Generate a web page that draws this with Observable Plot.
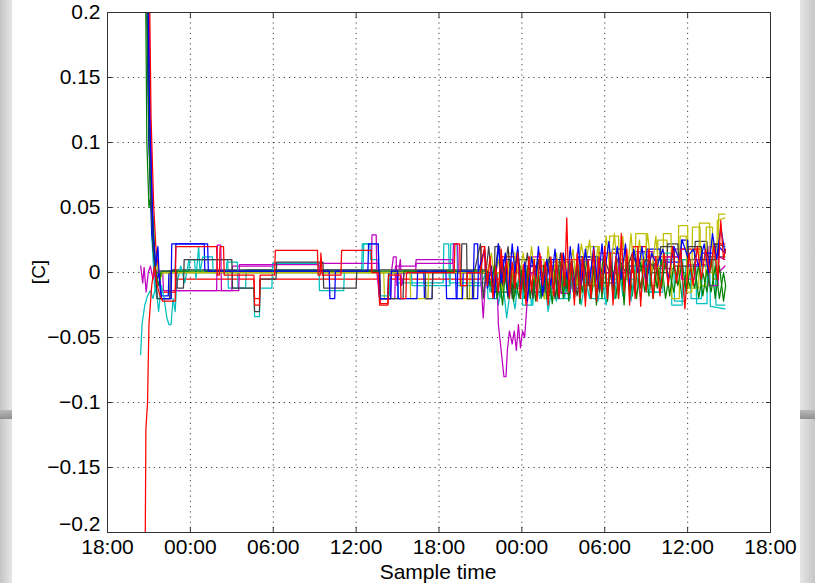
<!DOCTYPE html>
<html><head><meta charset="utf-8">
<script src="https://cdn.jsdelivr.net/npm/d3@7"></script>
<script src="https://cdn.jsdelivr.net/npm/@observablehq/plot@0.6"></script>
<style>
html,body{margin:0;padding:0}
body{width:815px;height:583px;position:relative;overflow:hidden;background:linear-gradient(to right,#c4c4c4 0px,#e4e4e4 11px,#e4e4e4 801px,#c6c6c6 815px);font-family:"Liberation Sans",Arial,Helvetica,sans-serif}
#band{position:absolute;left:0;top:410px;width:815px;height:9px;background:linear-gradient(#b8b8b8,#909090)}
#panel{position:absolute;left:12px;top:0;width:788px;height:583px;background:#fff}
</style></head><body>
<div id="band"></div><div id="panel"></div>
<script>
// x: hours since 18:00 of the first day
const xTicks = [0, 6, 12, 18, 24, 30, 36, 42, 48];
const xTickLabels = ["18:00", "00:00", "06:00", "12:00", "18:00", "00:00", "06:00", "12:00", "18:00"];
const yTicks = [-0.2, -0.15, -0.1, -0.05, 0, 0.05, 0.1, 0.15, 0.2];
const yTickLabels = ["−0.2", "−0.15", "−0.1", "−0.05", "0", "0.05", "0.1", "0.15", "0.2"];

const blueA = [[2.75,0.35],[3.05,0.12],[3.3,0.03],[3.5,0.005],[3.65,0.02],[3.75,-0.005],[3.9,-0.02],[4.6,-0.02],[4.65,0.022],[7.25,0.022],[7.3,0.001],[16.05,0.001],[16.1,-0.02],[16.45,-0.02],[16.5,0.001],[18.85,0.001],[18.9,0.022],[19.6,0.022],[19.7,-0.02],[20.5,-0.02],[20.55,0.001],[21.0,0.001],[21.05,-0.02],[22.4,-0.02],[22.45,0.001],[24.5,0.001],[24.55,-0.02],[25.3,-0.02],[25.35,0.001],[26.4,0.001],[26.45,-0.02],[26.8,-0.02],[26.85,0.001],
[27.3,0.018],[27.5,-0.012],[27.8,0.005],[28.0,-0.02],[28.3,0.022],[28.5,-0.008],[28.8,0.015],[29.0,-0.018],[29.3,0.022],[29.5,0.0],[29.7,0.02],[29.9,-0.015],[30.2,0.008],[30.4,-0.022],[30.7,0.012],[31.0,-0.005],[31.2,0.02],[31.5,-0.018],[31.8,0.01],[32.1,-0.01],[32.4,0.018],[32.7,-0.02],[33.0,0.015],[33.3,-0.005],[33.5,0.02],[33.8,-0.015],[34.1,0.022],[34.3,-0.01],[34.6,0.018],[34.9,-0.008],[35.2,0.02],[35.5,-0.012],[35.8,0.022],[36.0,0.0],[36.3,0.024],[36.6,-0.01],[36.9,0.02],[37.2,-0.005],[37.5,0.022],[37.8,-0.01],[38.1,0.018],[38.4,0.0],[38.7,0.02],[39.0,-0.008],[39.4,0.015],[39.8,0.005],[40.2,0.018],[40.6,-0.005],[41.0,0.02],[41.4,0.01],[41.6,0.025],[42.0,0.012],[42.4,0.018],[42.8,0.005],[43.2,0.022],[43.5,0.0],[43.8,0.03],[44.1,0.01],[44.4,0.035],[44.7,0.015]];

const greenA = [[2.7,0.4],[2.95,0.15],[3.1,0.07],[3.3,0.04],[3.5,0.0],[3.7,-0.01],[3.9,0.001],[27.5,0.001],
[27.8,-0.01],[28.0,0.005],[28.2,-0.02],[28.4,-0.005],[28.6,-0.025],[28.8,0.0],[29.0,-0.018],[29.2,0.005],[29.4,-0.022],[29.6,-0.008],[29.8,-0.02],[30.0,0.002],[30.2,-0.015],[30.4,0.004],[30.6,-0.02],[30.8,-0.005],[31.0,-0.022],[31.2,0.0],[31.4,-0.018],[31.6,0.006],[31.8,-0.02],[32.0,-0.004],[32.2,-0.024],[32.4,0.002],[32.6,-0.018],[32.8,0.008],[33.0,-0.02],[33.2,0.0],[33.4,-0.022],[33.6,0.005],[33.8,-0.018],[34.0,0.008],[34.2,-0.024],[34.4,0.002],[34.6,-0.02],[34.8,0.01],[35.0,-0.018],[35.2,0.005],[35.4,-0.025],[35.6,0.008],[35.8,-0.02],[36.0,0.01],[36.2,-0.022],[36.4,0.006],[36.6,-0.018],[36.8,0.012],[37.0,-0.02],[37.2,0.005],[37.4,-0.025],[37.6,0.01],[37.8,-0.015],[38.0,0.012],[38.3,-0.02],[38.6,0.008],[38.9,-0.015],[39.2,0.01],[39.5,-0.02],[39.8,0.005],[40.1,-0.012],[40.4,0.01],[40.7,-0.018],[41.0,0.006],[41.3,-0.01],[41.6,0.008],[41.9,-0.015],[42.2,0.004],[42.5,-0.012],[42.8,0.006],[43.1,-0.018],[43.4,0.002],[43.7,-0.015],[44.0,0.005],[44.3,-0.02],[44.6,0.0],[44.75,-0.01]];

const redA = [[2.68,-0.3],[2.78,-0.12],[2.9,-0.1],[3.0,-0.04],[3.2,-0.01],[3.4,0.005],[3.6,-0.01],[3.8,-0.018],[4.0,-0.022],[4.9,-0.022],[4.95,0.02],[7.9,0.02],[7.95,-0.002],[8.1,-0.002],[8.15,0.02],[8.4,0.02],[8.45,-0.002],[10.6,-0.002],[10.65,-0.025],[11.0,-0.025],[11.05,-0.002],[12.1,-0.002],[12.15,0.017],[15.2,0.017],[15.25,-0.002],[15.4,-0.002],[15.45,0.015],[15.55,-0.002],[16.9,-0.002],[16.95,0.017],[19.1,0.017],[19.15,0.0],[19.6,0.0],[19.7,-0.025],[20.3,-0.025],[20.35,-0.002],[21.2,-0.002],[21.25,-0.02],[21.6,-0.02],[21.65,0.0],[25.1,0.0],[25.15,0.022],[25.5,0.022],[25.55,-0.01],[26.0,-0.01],[26.05,0.0],[27.0,0.0],
[27.3,0.02],[27.5,-0.01],[27.7,0.012],[27.9,-0.02],[28.1,0.005],[28.3,-0.015],[28.5,0.018],[28.7,-0.008],[28.9,0.01],[29.1,-0.02],[29.3,0.008],[29.5,-0.012],[29.7,0.015],[29.9,-0.02],[30.1,0.006],[30.3,-0.025],[30.5,0.012],[30.7,-0.015],[30.9,0.01],[31.1,-0.022],[31.3,0.015],[31.5,-0.01],[31.7,0.008],[31.9,-0.025],[32.1,0.012],[32.3,-0.018],[32.5,0.01],[32.7,-0.02],[32.9,0.015],[33.1,-0.01],[33.25,0.042],[33.4,-0.015],[33.6,0.01],[33.8,-0.025],[34.0,0.015],[34.2,-0.02],[34.4,0.012],[34.6,-0.026],[34.8,0.01],[35.0,-0.02],[35.2,0.018],[35.4,-0.022],[35.6,0.012],[35.8,-0.015],[36.0,0.02],[36.2,-0.02],[36.4,0.015],[36.6,-0.025],[36.8,0.012],[37.0,-0.02],[37.2,0.03],[37.4,-0.015],[37.6,0.018],[37.8,-0.025],[38.0,0.015],[38.2,-0.02],[38.4,0.02],[38.6,-0.026],[38.8,0.01],[39.0,-0.015],[39.2,0.018],[39.5,-0.02],[39.7,0.012],[40.0,-0.018],[40.3,0.015],[40.6,-0.01],[40.9,0.02],[41.2,-0.008],[41.5,0.018],[41.8,-0.028],[42.1,0.015],[42.4,-0.01],[42.7,0.02],[43.0,-0.005],[43.3,0.018],[43.6,0.0],[43.9,0.02],[44.2,-0.005],[44.4,0.04],[44.6,0.01],[44.75,0.018]];

const cyanA = [[2.4,-0.063],[2.5,-0.04],[2.7,-0.025],[2.9,-0.018],[3.1,-0.014],[3.3,-0.02],[3.5,-0.01],[3.7,-0.03],[3.9,-0.01],[4.1,-0.02],[4.3,-0.035],[4.45,-0.04],[4.6,-0.04],[4.75,-0.02],[4.9,-0.03],[5.0,-0.01],[5.3,0.005],[5.6,-0.008],[5.9,0.01],[6.3,0.01],[6.4,-0.005],[6.6,0.02],[6.7,0.0],[6.9,0.012],[7.6,0.012],[7.65,0.0],[8.6,0.0],[8.65,0.008],[9.4,0.008],[9.45,-0.012],[10.6,-0.012],[10.65,-0.034],[11.0,-0.034],[11.05,-0.012],[11.9,-0.012],[11.95,0.007],[15.3,0.007],[15.35,-0.014],[17.1,-0.014],[17.15,0.001],[18.5,0.001],[18.55,0.022],[19.6,0.022],[19.7,-0.018],[20.4,-0.018],[20.45,0.0],[22.0,0.0],[22.05,-0.01],[24.8,-0.01],[24.85,0.022],[25.3,0.022],[25.35,-0.01],[27.0,-0.01],
[27.4,0.0],[27.7,-0.015],[28.0,0.002],[28.3,-0.025],[28.6,-0.005],[28.9,-0.035],[29.2,-0.01],[29.5,-0.028],[29.8,0.0],[30.1,-0.02],[30.4,0.005],[30.7,-0.025],[31.0,-0.005],[31.3,-0.02],[31.6,0.0],[31.9,-0.03],[32.2,-0.01],[32.5,-0.022],[32.8,0.0],[33.1,-0.02],[33.4,0.005],[33.7,-0.015],[34.0,0.0],[34.3,-0.025],[34.6,-0.005],[34.9,-0.02],[35.2,0.005],[35.5,-0.022],[35.8,-0.005],[36.1,-0.025],[36.4,0.0],[36.7,-0.02],[37.0,0.01],[37.3,-0.018],[37.6,0.0],[37.9,-0.022],[38.2,0.005],[38.6,-0.02],[39.0,0.01],[39.2,0.01],[39.25,-0.015],[40.2,-0.015],[40.25,0.015],[40.8,0.015],[40.85,-0.025],[41.6,-0.025],[41.65,0.01],[42.2,0.01],[42.25,-0.02],[43.0,-0.02],[43.05,0.005],[43.6,0.005],[43.65,-0.026],[44.7,-0.028]];

const magentaA = [[2.4,0.005],[2.55,-0.008],[2.65,0.004],[2.8,-0.015],[2.95,0.0],[3.1,0.005],[3.3,-0.005],[3.5,0.001],[4.9,0.001],[4.95,-0.014],[7.9,-0.014],[7.95,0.021],[8.2,0.021],[8.25,-0.014],[9.5,-0.014],[9.55,0.006],[15.3,0.006],[15.35,0.001],[19.1,0.001],[19.15,0.029],[19.45,0.029],[19.5,0.0],[19.7,-0.02],[20.5,-0.02],[20.55,0.0],[20.7,0.012],[20.9,0.012],[20.95,-0.01],[21.2,0.01],[21.3,-0.01],[21.5,0.0],[22.3,0.0],[22.35,0.007],[25.0,0.007],[25.05,0.022],[25.35,0.022],[25.4,0.0],[27.0,0.0],[27.2,-0.035],[27.4,0.0],[28.2,-0.005],[28.3,-0.04],[28.5,-0.06],[28.7,-0.08],[28.85,-0.08],[28.95,-0.06],[29.1,-0.045],[29.3,-0.055],[29.45,-0.045],[29.6,-0.06],[29.75,-0.04],[29.9,-0.058],[30.05,-0.045],[30.2,-0.05],[30.4,-0.02],[30.5,-0.01],[30.7,0.0],[31.5,0.0],[31.55,-0.012],[32.2,-0.012],[32.25,0.005],[32.8,0.005],[32.85,-0.016],[33.5,-0.016],[33.55,-0.005],[34.5,-0.005],[34.55,0.01],[35.5,0.01],[35.55,0.0],[37.0,0.0],[37.05,0.01],[38.5,0.01],[38.55,0.005],[40.5,0.005],[40.55,0.012],[41.5,0.012],[41.55,-0.005],[42.5,-0.005],[42.55,0.01],[43.5,0.01],[43.55,-0.01],[44.2,-0.01],[44.25,0.012],[44.7,0.01]];

const yellowA = [[3.5,0.01],[3.7,0.0],[21.9,0.0],[21.95,-0.02],[23.2,-0.02],[23.25,0.0],[26.0,0.0],[26.05,-0.02],[26.4,-0.02],[26.45,0.0],[27.5,0.0],
[27.8,0.015],[28.0,-0.005],[28.3,0.01],[28.6,-0.015],[28.9,0.008],[29.2,-0.01],[29.5,0.012],[29.8,-0.005],[30.1,0.015],[30.4,-0.012],[30.7,0.02],[31.0,-0.008],[31.3,0.01],[31.6,-0.02],[31.9,0.02],[32.2,-0.01],[32.5,0.015],[32.8,-0.015],[33.1,0.012],[33.4,-0.005],[33.7,0.018],[34.0,-0.01],[34.3,0.022],[34.6,0.005],[34.9,0.025],[35.2,-0.01],[35.5,0.02],[35.8,-0.015],[36.1,0.028],[36.4,0.0],[36.7,0.03],[37.0,-0.01],[37.3,0.028],[37.6,-0.005],[37.9,0.03],[38.2,-0.012],[38.5,0.025],[38.8,0.0],[39.1,0.03],[39.4,0.0],[39.7,0.028],[40.0,-0.01],[40.2,-0.01],[40.25,0.03],[40.8,0.03],[40.85,-0.02],[41.4,-0.02],[41.45,0.028],[41.9,0.028],[41.95,-0.015],[42.3,-0.015],[42.35,0.035],[42.9,0.035],[42.95,-0.01],[43.3,-0.01],[43.35,0.035],[43.8,0.035],[43.85,-0.005],[44.1,-0.005],[44.15,0.04],[44.7,0.042]];

const grayA = [[2.8,0.3],[3.1,0.06],[3.4,0.01],[3.6,-0.02],[4.5,-0.02],[4.55,0.001],[5.0,0.001],[5.05,-0.012],[5.5,-0.012],[5.55,0.01],[9.0,0.01],[9.05,-0.012],[10.6,-0.012],[10.65,-0.03],[11.0,-0.03],[11.05,-0.005],[12.2,-0.005],[12.25,0.008],[15.6,0.008],[15.65,-0.012],[18.0,-0.012],[18.05,0.001],[19.7,0.001],[19.75,-0.02],[21.4,-0.02],[21.45,0.001],[23.0,0.001],[23.05,-0.02],[23.5,-0.02],[23.55,0.001],[25.6,0.001],[25.65,0.022],[26.0,0.022],[26.05,-0.02],[26.5,-0.02],[26.55,0.0],
[27.0,0.022],[27.2,-0.02],[27.6,0.02],[27.9,-0.015],[28.3,0.022],[28.6,-0.01],[29.0,0.02],[29.3,-0.02],[29.7,0.018],[30.0,-0.012],[30.4,0.015],[30.8,-0.02],[31.2,0.01],[31.6,-0.015],[32.0,0.012],[32.4,-0.02],[32.8,0.015],[33.2,-0.012],[33.6,0.01],[34.0,-0.018],[34.4,0.012],[34.8,-0.01],[35.2,0.015],[35.6,-0.015],[36.0,0.01],[36.5,-0.005],[37.0,0.012],[37.5,0.0],[38.0,0.015],[38.5,0.0],[39.0,0.01],[39.5,0.005],[40.0,0.012],[40.05,0.02],[41.0,0.02],[41.05,0.005],[42.0,0.005],[42.05,0.02],[43.0,0.02],[43.05,0.01],[44.0,0.01],[44.05,0.022],[44.7,0.02]];

const blueB = [[2.75,0.3],[3.0,0.1],[3.2,0.03],[3.4,0.008],[3.55,-0.01],[3.7,0.002],[3.9,-0.018],[4.4,-0.018],[4.45,0.001],[4.9,0.001],[4.95,0.022],[7.0,0.022],[7.05,0.001],[19.7,0.001],[19.75,-0.02],[20.3,-0.02],[20.35,0.0],[22.9,0.0],[22.95,-0.02],[23.5,-0.02],[23.55,0.0],[25.2,0.0],[25.25,-0.02],[25.7,-0.02],[25.75,0.0],[26.5,0.0],[26.55,0.022],[26.8,0.022],[26.85,0.0],[28.0,0.0],[28.05,-0.015],[28.6,-0.015],[28.65,0.01],[29.2,0.01],[29.25,-0.01],[30.2,-0.01],[30.25,0.005],[31.0,0.005],[31.05,-0.015],[31.8,-0.015],[31.85,0.01],[33.0,0.01],[33.05,-0.008],[34.0,-0.008],[34.05,0.012],[35.5,0.012],[35.55,0.0],[36.5,0.0],[36.55,0.018],[37.5,0.018],[37.55,0.005],[39.0,0.005],[39.05,0.018],[40.0,0.018],[40.05,0.008],[41.5,0.008],[41.55,0.025],[42.0,0.025],[42.05,0.005],[43.0,0.005],[43.05,0.015],[43.8,0.015],[43.85,-0.005],[44.2,-0.005],[44.25,0.02],[44.7,0.015]];

const greenB = [[2.7,0.3],[2.85,0.1],[3.0,0.05],[3.15,0.06],[3.3,0.02],[3.5,0.0],[27.5,0.0],
[27.8,-0.015],[28.1,0.0],[28.4,-0.02],[28.7,0.005],[29.0,-0.02],[29.3,0.0],[29.6,-0.018],[29.9,0.005],[30.2,-0.02],[30.5,0.0],[30.8,-0.015],[31.1,0.008],[31.4,-0.02],[31.7,0.002],[32.0,-0.018],[32.3,0.006],[32.6,-0.02],[32.9,0.0],[33.2,-0.015],[33.5,0.008],[33.8,-0.02],[34.1,0.005],[34.4,-0.015],[34.7,0.01],[35.0,-0.02],[35.3,0.0],[35.6,-0.012],[35.9,0.012],[36.2,-0.015],[36.5,0.008],[36.8,-0.02],[37.1,0.01],[37.4,-0.01],[37.7,0.012],[38.0,-0.018],[38.3,0.01],[38.6,-0.012],[38.9,0.01],[39.2,-0.018],[39.5,0.008],[39.8,-0.012],[40.1,0.01],[40.4,-0.02],[40.7,0.0],[41.0,-0.015],[41.3,0.005],[41.6,-0.02],[41.9,0.0],[42.2,-0.012],[42.5,0.008],[42.8,-0.02],[43.1,0.0],[43.4,-0.015],[43.7,0.01],[44.0,-0.02],[44.3,0.005],[44.6,-0.022],[44.75,-0.01]];

const redB = [[2.9,0.35],[3.15,0.12],[3.35,0.05],[3.5,0.02],[3.7,0.0],[3.9,-0.015],[4.9,-0.015],[4.95,-0.005],[10.6,-0.005],[10.65,-0.02],[11.0,-0.02],[11.05,-0.005],[19.7,-0.005],[19.75,-0.024],[20.3,-0.024],[20.35,-0.005],[27.0,-0.005],[27.05,0.02],[27.3,0.02],[27.35,-0.005],[28.5,-0.005],[28.55,0.012],[29.5,0.012],[29.55,-0.012],[30.5,-0.012],[30.55,0.005],[32.0,0.005],[32.05,-0.015],[33.0,-0.015],[33.05,0.01],[34.5,0.01],[34.55,-0.01],[35.5,-0.01],[35.55,0.015],[37.0,0.015],[37.05,0.0],[38.0,0.0],[38.05,0.02],[39.0,0.02],[39.05,0.012],[41.5,0.012],[41.55,0.018],[43.0,0.018],[43.05,0.005],[43.8,0.005],[43.85,0.022],[44.7,0.022]];

const cyanB = [[2.8,0.3],[3.0,0.15],[3.2,0.03],[3.4,-0.01],[3.6,-0.02],[3.8,-0.02],[3.85,0.001],[5.9,0.001],[5.95,0.01],[8.7,0.01],[8.75,-0.012],[10.0,-0.012],[10.05,0.002],[18.4,0.002],[18.45,0.022],[19.0,0.022],[19.05,0.01],[19.6,0.01],[19.7,-0.02],[21.0,-0.02],[21.05,-0.008],[24.3,-0.008],[24.35,0.022],[24.7,0.022],[24.75,-0.008],[27.5,-0.008],[27.55,-0.02],[28.2,-0.02],[28.25,0.0],[30.0,0.0],[30.05,-0.025],[30.8,-0.025],[30.85,-0.005],[32.5,-0.005],[32.55,-0.02],[33.5,-0.02],[33.55,0.0],[35.0,0.0],[35.05,-0.02],[36.0,-0.02],[36.05,-0.005],[38.3,-0.005],[38.35,0.015],[39.0,0.015],[39.05,-0.015],[40.0,-0.015],[40.05,0.01],[41.0,0.01],[41.05,-0.022],[41.8,-0.022],[41.85,0.005],[42.6,0.005],[42.65,-0.024],[43.4,-0.024],[43.45,0.01],[44.0,0.01],[44.05,-0.025],[44.7,-0.025]];

const magentaB = [[2.9,0.3],[3.1,0.12],[3.3,0.03],[3.5,0.0],[4.0,0.0],[4.05,-0.014],[9.0,-0.014],[9.05,0.005],[12.0,0.005],[12.05,0.007],[19.6,0.007],[19.7,-0.02],[20.8,-0.02],[20.85,0.005],[22.3,0.005],[22.35,0.01],[25.0,0.01],[25.05,0.0],[30.5,0.0],[30.55,0.012],[31.4,0.012],[31.45,-0.01],[32.0,-0.01],[32.05,0.008],[33.5,0.008],[33.55,-0.012],[34.2,-0.012],[34.25,0.01],[36.0,0.01],[36.05,0.0],[38.0,0.0],[38.05,0.016],[39.5,0.016],[39.55,0.003],[41.0,0.003],[41.05,0.018],[42.0,0.018],[42.05,0.006],[43.5,0.006],[43.55,0.02],[44.2,0.02],[44.25,0.0],[44.7,0.005]];

const yellowB = [[3.5,0.01],[3.8,-0.005],[4.0,0.0],[20.0,0.0],[20.05,-0.02],[20.3,-0.02],[20.35,0.0],[25.6,0.0],[25.65,-0.02],[26.2,-0.02],[26.25,0.0],[29.0,0.0],[29.05,0.015],[29.5,0.015],[29.55,-0.01],[30.8,-0.01],[30.85,0.01],[31.6,0.01],[31.65,-0.02],[32.5,-0.02],[32.55,0.008],[33.8,0.008],[33.85,-0.015],[34.6,-0.015],[34.65,0.02],[35.6,0.02],[35.65,-0.01],[36.3,-0.01],[36.35,0.028],[37.0,0.028],[37.05,0.005],[38.2,0.005],[38.25,0.03],[39.0,0.03],[39.05,-0.01],[39.8,-0.01],[39.85,0.025],[40.5,0.025],[40.55,0.0],[41.3,0.0],[41.35,0.036],[42.0,0.036],[42.05,-0.012],[42.8,-0.012],[42.85,0.038],[43.6,0.038],[43.65,0.0],[44.2,0.0],[44.25,0.045],[44.7,0.045]];

const grayB = [[2.7,0.3],[3.0,0.1],[3.3,0.02],[3.5,-0.005],[3.6,-0.02],[4.6,-0.02],[4.65,0.002],[27.5,0.002],[27.55,-0.01],[28.0,-0.01],[28.05,0.02],[28.4,0.02],[28.45,-0.015],[29.5,-0.015],[29.55,0.01],[30.5,0.01],[30.55,-0.015],[31.5,-0.015],[31.55,0.005],[33.0,0.005],[33.05,-0.01],[34.0,-0.01],[34.05,0.012],[35.5,0.012],[35.55,-0.008],[37.0,-0.008],[37.05,0.01],[39.0,0.01],[39.05,0.0],[40.5,0.0],[40.55,0.022],[41.3,0.022],[41.35,0.01],[42.5,0.01],[42.55,0.024],[43.4,0.024],[43.45,0.012],[44.7,0.012]];

// drawing order (last on top) and colours
const seriesData = [cyanB, magentaB, yellowB, grayB, redB, blueB, greenB, cyanA, magentaA, yellowA, grayA, greenA, blueA, redA];
const seriesColors = ["#00bfbf", "#bf00bf", "#bfbf00", "#404040", "#ff0000", "#0000ff", "#008000", "#00bfbf", "#bf00bf", "#bfbf00", "#404040", "#008000", "#0000ff", "#ff0000"];

const fmtX = d => xTickLabels[xTicks.indexOf(d)];
const fmtY = d => yTickLabels[yTicks.indexOf(d)];
const yTicksUpper = yTicks.slice(1);
const yTicksLowest = yTicks.slice(0, 1);

const lines = seriesData.map((pts, i) => Plot.line(pts, {
  x: d => d[0], y: d => d[1], stroke: seriesColors[i], strokeWidth: 1.25, clip: true
}));

const grid = {stroke: "#000", strokeOpacity: 0.75, strokeDasharray: "1.2,4", strokeWidth: 1};

const chart = Plot.plot({
  width: 788,
  height: 583,
  marginLeft: 95,
  marginRight: 30,
  marginTop: 12,
  marginBottom: 51,
  style: {fontFamily: '"Liberation Sans", Arial, Helvetica, sans-serif', fontSize: "21px", background: "transparent", color: "#000"},
  x: {domain: [0, 48]},
  y: {domain: [-0.2, 0.2]},
  marks: [
    Plot.gridX(xTicks, grid),
    Plot.gridY(yTicks, grid),
    ...lines,
    Plot.frame({stroke: "#333", strokeWidth: 1}),
    Plot.axisY(yTicksUpper, {anchor: "left", tickSize: 0, tickPadding: 7, tickFormat: fmtY, label: null, fontSize: 21}),
    Plot.axisY(yTicksLowest, {anchor: "left", tickSize: 0, tickPadding: 7, tickFormat: fmtY, label: null, fontSize: 21, dy: -8}),
    Plot.axisX(xTicks, {anchor: "bottom", tickSize: 0, tickPadding: 7, tickFormat: fmtX, label: null, fontSize: 21}),
    Plot.axisY(yTicks, {anchor: "left", tickSize: -5, tickFormat: () => "", label: null, stroke: "#333"}),
    Plot.axisY(yTicks, {anchor: "right", tickSize: -5, tickFormat: () => "", label: null, stroke: "#333"}),
    Plot.axisX(xTicks, {anchor: "bottom", tickSize: -5, tickFormat: () => "", label: null, stroke: "#333"}),
    Plot.axisX(xTicks, {anchor: "top", tickSize: -5, tickFormat: () => "", label: null, stroke: "#333"})
  ]
});

const svg = d3.select(chart);
svg.append("text").attr("x", 426).attr("y", 578.5).attr("text-anchor", "middle")
  .attr("font-size", 21).attr("fill", "#000").text("Sample time");
svg.append("text").attr("transform", "translate(33,272) rotate(-90)").attr("text-anchor", "middle")
  .attr("font-size", 19).attr("fill", "#000").text("[C]");

document.getElementById("panel").appendChild(chart);
</script></body></html>
